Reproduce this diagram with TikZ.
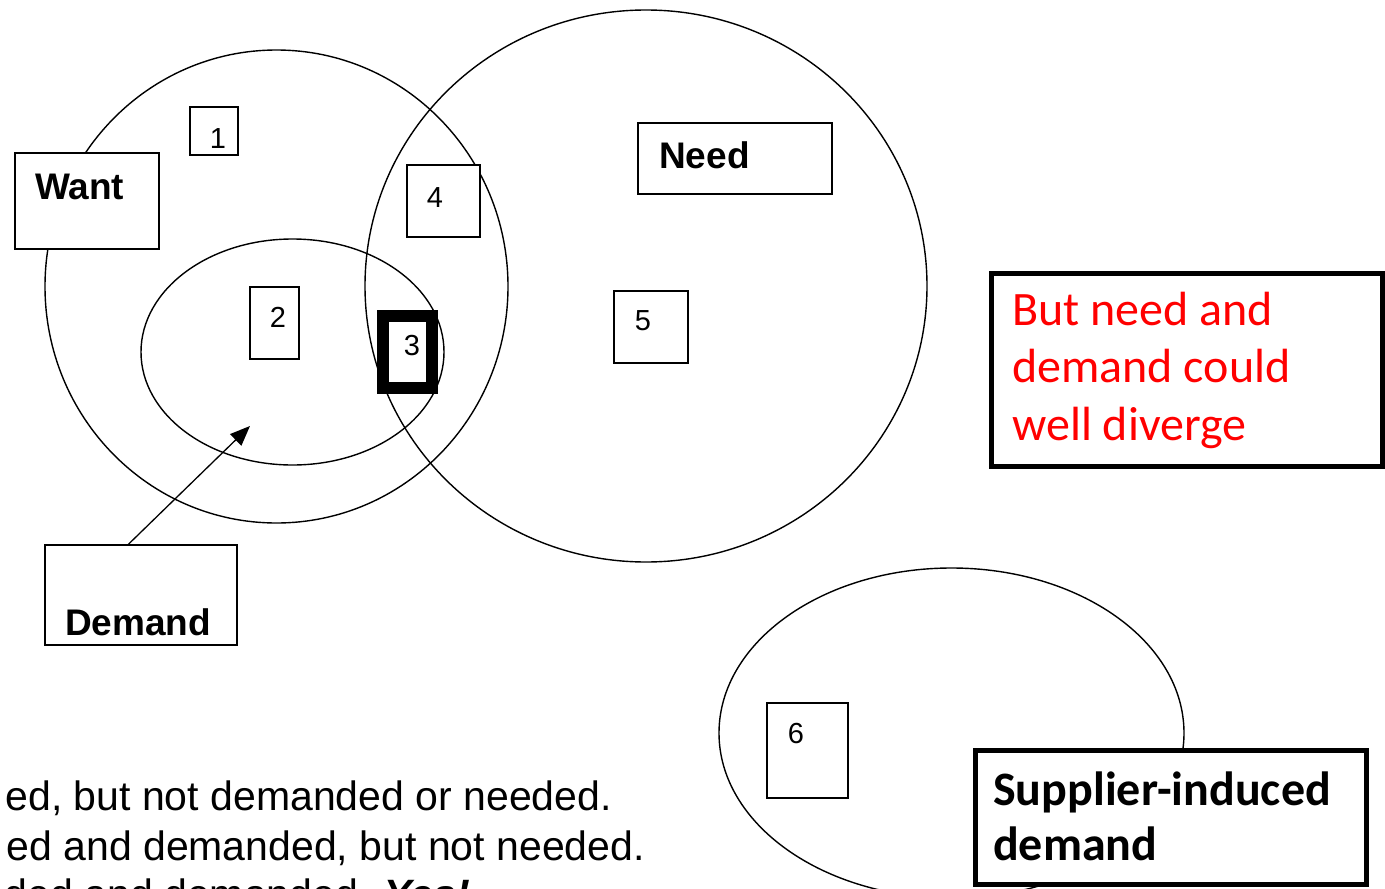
\documentclass[tikz,border=0pt]{standalone}
\usepackage{fontspec}
\setmainfont{Liberation Sans}
\newfontfamily\calibri{Carlito}
\usetikzlibrary{arrows.meta,calc}
\begin{document}
\begin{tikzpicture}[x=1pt,y=-1pt,
  setline/.style={line width=1.4pt},
  box/.style={draw, line width=1.3pt, fill=white, inner sep=0pt},
  thickbox/.style={draw, line width=5pt, fill=white, inner sep=0pt},
  numtxt/.style={anchor=base, inner sep=0pt, font=\fontsize{29}{34}\selectfont},
  labtxt/.style={anchor=base west, inner sep=0pt, font=\bfseries\fontsize{37}{43}\selectfont},
  caltxt/.style={anchor=base west, inner sep=0pt, align=left},
  bottxt/.style={anchor=base east, inner sep=0pt, font=\fontsize{41}{50}\selectfont}]
\useasboundingbox (0,0) rectangle (1385,889);
\clip (0,0) rectangle (1385,889);
\fill[white] (0,0) rectangle (1385,889);
% sets
\draw[setline] (276.5,286.5) ellipse [x radius=231.5, y radius=236.5];
\draw[setline] (646,286) ellipse [x radius=281, y radius=276];
\draw[setline] (292.5,352) ellipse [x radius=151.5, y radius=113];
\draw[setline] (951.5,733) ellipse [x radius=232.5, y radius=165];
% boxes
\node[box, minimum width=144, minimum height=96] (want) at (87,201) {};
\node[box, minimum width=48, minimum height=48] (b1) at (214,131) {};
\node[box, minimum width=73, minimum height=72] (b4) at (443.5,201) {};
\node[box, minimum width=49, minimum height=72] (b2) at (274.5,323) {};
\node[box, line width=12pt, minimum width=48.5, minimum height=71.5] (b3) at (407.25,351.75) {};
\node[box, minimum width=194, minimum height=71] (need) at (735,158.5) {};
\node[box, minimum width=74, minimum height=72] (b5) at (651,327) {};
\node[box, minimum width=192, minimum height=100] (demand) at (141,595) {};
\node[box, minimum width=81, minimum height=95] (b6) at (807.5,750.5) {};
\node[thickbox, minimum width=391, minimum height=193] (diverge) at (1186.5,369.5) {};
\node[thickbox, minimum width=391, minimum height=134] (sid) at (1171,817.5) {};
% labels
\node[numtxt] at (218,148) {1};
\node[numtxt] at (278,327) {2};
\node[numtxt] at (412,355) {3};
\node[numtxt] at (435,207) {4};
\node[numtxt] at (643,330) {5};
\node[numtxt] at (796,743) {6};
\node[labtxt] at (35,199) {Want};
\node[labtxt] at (659,168) {Need};
\node[labtxt] at (65,635) {Demand};
\node[caltxt, text=red, font=\calibri\fontsize{48}{57.5}\selectfont] at (1012,440) {But need and\\demand could\\well diverge};
\node[caltxt, font=\calibri\bfseries\fontsize{48}{55}\selectfont] at (993,860) {Supplier-induced\\demand};
% arrow
\coordinate (dtip) at (250,426);
\draw[line width=1.3pt, -{Triangle[length=20pt,width=16pt]}] ($(demand.north west)+(84,0)$) -- (dtip);
% bottom text
\node[bottxt] at (612,810) {ed, but not demanded or needed.};
\node[bottxt] at (645,860) {ed and demanded, but not needed.};
\node[bottxt] at (470,908) {ed, needed and demanded. \textbf{\textit{Yes!}}};
\end{tikzpicture}
\end{document}
